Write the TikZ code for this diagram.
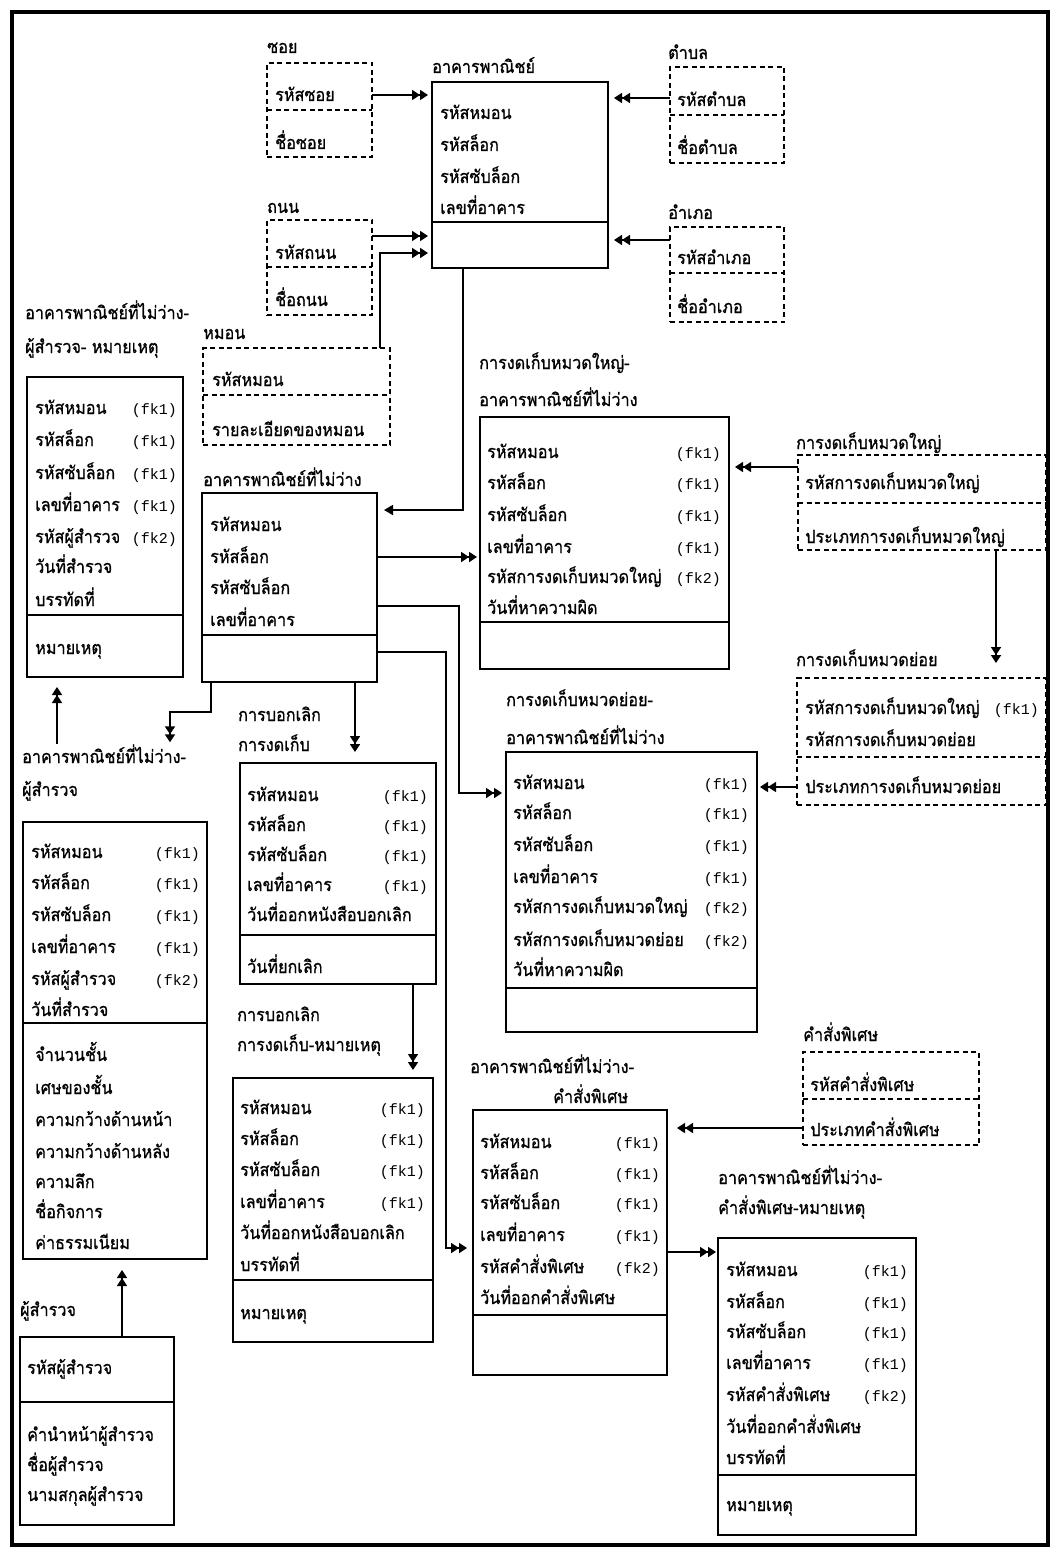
\documentclass[tikz,border=0pt]{standalone}
\usepackage{fontspec}
\setmainfont[Script=Thai,FakeStretch=0.9,FakeBold=0.8]{Loma}
\newfontfamily\fkfont{Liberation Mono}
\usetikzlibrary{arrows.meta}
\tikzset{
  x=1pt,y=-1pt,
  ent/.style={draw, line width=1.8pt, inner sep=0, outer sep=0, anchor=north west},
  dent/.style={ent, dash pattern=on 5pt off 3.5pt, line width=1.5pt},
  div/.style={line width=1.8pt},
  ddiv/.style={line width=1.5pt, dash pattern=on 5pt off 3.5pt},
  txt/.style={anchor=base west, inner sep=0, font=\fontsize{18}{20}\selectfont},
  fk/.style={anchor=base east, inner sep=0, font=\fkfont\fontsize{15}{18}\selectfont},
  conn/.style={line width=1.7pt},
  dbl/.style={conn, -{Triangle[length=8pt,width=10pt]Triangle[length=8pt,width=10pt]}},
  sgl/.style={conn, -{Triangle[length=9pt,width=10pt]}},
}
\newcommand\Ebox[6]{\node[#2, minimum width={(#5)-(#3)}, minimum height={(#6)-(#4)}] (#1) at (#3,#4) {};}
\newcommand\Div[3]{\draw[#2] (#1.west |- 0,#3) -- (#1.east |- 0,#3);}
\newcommand\R[4]{\node[txt] (#1) at (#2,#3+6) {#4};}
\newcommand\F[4]{\node[fk] (#1) at (#2,#3+6) {#4};}
\begin{document}
\begin{tikzpicture}
\fill[white] (0,0) rectangle (1059,1554);
\useasboundingbox (0,0) rectangle (1059,1554);
\draw[line width=4pt] (12,12) rectangle (1048,1545);

% soi
\node[txt] (soiL) at (267,47+6) {ซอย};
\Ebox{soi}{dent}{267}{63}{372}{157}
\Div{soi}{ddiv}{110}
\R{soi1}{275}{95}{รหัสซอย}
\R{soi2}{275}{143}{ชื่อซอย}

% main
\node[txt] (mainL) at (432,67+6) {อาคารพาณิชย์};
\Ebox{main}{ent}{432}{82}{608}{268}
\Div{main}{div}{222}
\R{main1}{440}{113}{รหัสหมอน}
\R{main2}{440}{145}{รหัสล็อก}
\R{main3}{440}{177}{รหัสซับล็อก}
\R{main4}{440}{208}{เลขที่อาคาร}

% tambon
\node[txt] (tamL) at (668,53+6) {ตำบล};
\Ebox{tam}{dent}{670}{67}{784}{163}
\Div{tam}{ddiv}{115}
\R{tam1}{677}{100}{รหัสตำบล}
\R{tam2}{677}{148}{ชื่อตำบล}

% amphoe
\node[txt] (ampL) at (668,213+6) {อำเภอ};
\Ebox{amp}{dent}{670}{227}{784}{322}
\Div{amp}{ddiv}{273}
\R{amp1}{677}{258}{รหัสอำเภอ}
\R{amp2}{677}{307}{ชื่ออำเภอ}

% thanon
\node[txt] (thaL) at (267,207+6) {ถนน};
\Ebox{tha}{dent}{267}{220}{372}{315}
\Div{tha}{ddiv}{267}
\R{tha1}{275}{253}{รหัสถนน}
\R{tha2}{275}{300}{ชื่อถนน}

% mon
\node[txt] (monL) at (203,333+6) {หมอน};
\Ebox{mon}{dent}{203}{348}{390}{445}
\Div{mon}{ddiv}{395}
\R{mon1}{212}{380}{รหัสหมอน}
\R{mon2}{212}{430}{รายละเอียดของหมอน}

% b7
\node[txt] (b7L1) at (25,313+6) {อาคารพาณิชย์ที่ไม่ว่าง-};
\node[txt] (b7L2) at (25,347+6) {ผู้สำรวจ- หมายเหตุ};
\Ebox{b7}{ent}{27}{377}{183}{677}
\Div{b7}{div}{615}
\R{b7r1}{35}{408}{รหัสหมอน}
\R{b7r2}{35}{440}{รหัสล็อก}
\R{b7r3}{35}{473}{รหัสซับล็อก}
\R{b7r4}{35}{505}{เลขที่อาคาร}
\R{b7r5}{35}{537}{รหัสผู้สำรวจ}
\R{b7r6}{35}{567}{วันที่สำรวจ}
\R{b7r7}{35}{600}{บรรทัดที่}
\R{b7r8}{35}{648}{หมายเหตุ}
\F{b7f1}{177}{408}{(fk1)}
\F{b7f2}{177}{440}{(fk1)}
\F{b7f3}{177}{473}{(fk1)}
\F{b7f4}{177}{505}{(fk1)}
\F{b7f5}{177}{537}{(fk2)}

% b8
\node[txt] (b8L) at (203,480+6) {อาคารพาณิชย์ที่ไม่ว่าง};
\Ebox{b8}{ent}{202}{493}{377}{682}
\Div{b8}{div}{635}
\R{b8r1}{210}{525}{รหัสหมอน}
\R{b8r2}{210}{557}{รหัสล็อก}
\R{b8r3}{210}{588}{รหัสซับล็อก}
\R{b8r4}{210}{620}{เลขที่อาคาร}

% b9
\node[txt] (b9L1) at (479,363+6) {การงดเก็บหมวดใหญ่-};
\node[txt] (b9L2) at (479,400+6) {อาคารพาณิชย์ที่ไม่ว่าง};
\Ebox{b9}{ent}{480}{417}{729}{669}
\Div{b9}{div}{622}
\R{b9r1}{487}{452}{รหัสหมอน}
\R{b9r2}{487}{483}{รหัสล็อก}
\R{b9r3}{487}{515}{รหัสซับล็อก}
\R{b9r4}{487}{547}{เลขที่อาคาร}
\R{b9r5}{487}{577}{รหัสการงดเก็บหมวดใหญ่}
\R{b9r6}{487}{608}{วันที่หาความผิด}
\F{b9f1}{721}{452}{(fk1)}
\F{b9f2}{721}{483}{(fk1)}
\F{b9f3}{721}{515}{(fk1)}
\F{b9f4}{721}{547}{(fk1)}
\F{b9f5}{721}{577}{(fk2)}

% b10
\node[txt] (b10L) at (796,443+6) {การงดเก็บหมวดใหญ่};
\Ebox{b10}{dent}{798}{455}{1046}{550}
\Div{b10}{ddiv}{503}
\R{b10r1}{805}{483}{รหัสการงดเก็บหมวดใหญ่}
\R{b10r2}{805}{537}{ประเภทการงดเก็บหมวดใหญ่}

% b11
\node[txt] (b11L) at (796,660+6) {การงดเก็บหมวดย่อย};
\Ebox{b11}{dent}{797}{678}{1046}{805}
\Div{b11}{ddiv}{757}
\R{b11r1}{805}{708}{รหัสการงดเก็บหมวดใหญ่}
\F{b11f1}{1039}{708}{(fk1)}
\R{b11r2}{805}{740}{รหัสการงดเก็บหมวดย่อย}
\R{b11r3}{805}{787}{ประเภทการงดเก็บหมวดย่อย}

% b12
\node[txt] (b12L1) at (506,700+6) {การงดเก็บหมวดย่อย-};
\node[txt] (b12L2) at (506,738+6) {อาคารพาณิชย์ที่ไม่ว่าง};
\Ebox{b12}{ent}{506}{752}{757}{1032}
\Div{b12}{div}{988}
\R{b12r1}{513}{783}{รหัสหมอน}
\R{b12r2}{513}{813}{รหัสล็อก}
\R{b12r3}{513}{845}{รหัสซับล็อก}
\R{b12r4}{513}{877}{เลขที่อาคาร}
\R{b12r5}{513}{907}{รหัสการงดเก็บหมวดใหญ่}
\R{b12r6}{513}{940}{รหัสการงดเก็บหมวดย่อย}
\R{b12r7}{513}{970}{วันที่หาความผิด}
\F{b12f1}{749}{783}{(fk1)}
\F{b12f2}{749}{813}{(fk1)}
\F{b12f3}{749}{845}{(fk1)}
\F{b12f4}{749}{877}{(fk1)}
\F{b12f5}{749}{907}{(fk2)}
\F{b12f6}{749}{940}{(fk2)}

% b13
\node[txt] (b13L1) at (238,715+6) {การบอกเลิก};
\node[txt] (b13L2) at (238,745+6) {การงดเก็บ};
\Ebox{b13}{ent}{240}{763}{436}{984}
\Div{b13}{div}{935}
\R{b13r1}{247}{795}{รหัสหมอน}
\R{b13r2}{247}{825}{รหัสล็อก}
\R{b13r3}{247}{855}{รหัสซับล็อก}
\R{b13r4}{247}{885}{เลขที่อาคาร}
\R{b13r5}{247}{915}{วันที่ออกหนังสือบอกเลิก}
\R{b13r6}{247}{967}{วันที่ยกเลิก}
\F{b13f1}{428}{795}{(fk1)}
\F{b13f2}{428}{825}{(fk1)}
\F{b13f3}{428}{855}{(fk1)}
\F{b13f4}{428}{885}{(fk1)}

% b14
\node[txt] (b14L1) at (22,757+6) {อาคารพาณิชย์ที่ไม่ว่าง-};
\node[txt] (b14L2) at (22,790+6) {ผู้สำรวจ};
\Ebox{b14}{ent}{23}{822}{207}{1259}
\Div{b14}{div}{1023}
\R{b14r1}{31}{852}{รหัสหมอน}
\R{b14r2}{31}{883}{รหัสล็อก}
\R{b14r3}{31}{915}{รหัสซับล็อก}
\R{b14r4}{31}{947}{เลขที่อาคาร}
\R{b14r5}{31}{979}{รหัสผู้สำรวจ}
\R{b14r6}{31}{1010}{วันที่สำรวจ}
\F{b14f1}{200}{852}{(fk1)}
\F{b14f2}{200}{883}{(fk1)}
\F{b14f3}{200}{915}{(fk1)}
\F{b14f4}{200}{947}{(fk1)}
\F{b14f5}{200}{979}{(fk2)}
\R{b14r7}{35}{1055}{จำนวนชั้น}
\R{b14r8}{35}{1088}{เศษของชั้น}
\R{b14r9}{35}{1120}{ความกว้างด้านหน้า}
\R{b14r10}{35}{1152}{ความกว้างด้านหลัง}
\R{b14r11}{35}{1182}{ความลึก}
\R{b14r12}{35}{1212}{ชื่อกิจการ}
\R{b14r13}{35}{1243}{ค่าธรรมเนียม}

% b15
\node[txt] (b15L) at (20,1310+6) {ผู้สำรวจ};
\Ebox{b15}{ent}{20}{1337}{174}{1525}
\Div{b15}{div}{1402}
\R{b15r1}{27}{1368}{รหัสผู้สำรวจ}
\R{b15r2}{27}{1435}{คำนำหน้าผู้สำรวจ}
\R{b15r3}{27}{1465}{ชื่อผู้สำรวจ}
\R{b15r4}{27}{1495}{นามสกุลผู้สำรวจ}

% b16
\node[txt] (b16L1) at (237,1015+6) {การบอกเลิก};
\node[txt] (b16L2) at (237,1045+6) {การงดเก็บ-หมายเหตุ};
\Ebox{b16}{ent}{233}{1078}{433}{1342}
\Div{b16}{div}{1280}
\R{b16r1}{240}{1108}{รหัสหมอน}
\R{b16r2}{240}{1139}{รหัสล็อก}
\R{b16r3}{240}{1170}{รหัสซับล็อก}
\R{b16r4}{240}{1202}{เลขที่อาคาร}
\R{b16r5}{240}{1233}{วันที่ออกหนังสือบอกเลิก}
\R{b16r6}{240}{1265}{บรรทัดที่}
\R{b16r7}{240}{1313}{หมายเหตุ}
\F{b16f1}{425}{1108}{(fk1)}
\F{b16f2}{425}{1139}{(fk1)}
\F{b16f3}{425}{1170}{(fk1)}
\F{b16f4}{425}{1202}{(fk1)}

% b17
\node[txt] (b17L1) at (470,1067+6) {อาคารพาณิชย์ที่ไม่ว่าง-};
\node[txt] (b17L2) at (553,1097+6) {คำสั่งพิเศษ};
\Ebox{b17}{ent}{473}{1110}{667}{1375}
\Div{b17}{div}{1315}
\R{b17r1}{480}{1142}{รหัสหมอน}
\R{b17r2}{480}{1173}{รหัสล็อก}
\R{b17r3}{480}{1203}{รหัสซับล็อก}
\R{b17r4}{480}{1235}{เลขที่อาคาร}
\R{b17r5}{480}{1267}{รหัสคำสั่งพิเศษ}
\R{b17r6}{480}{1298}{วันที่ออกคำสั่งพิเศษ}
\F{b17f1}{660}{1142}{(fk1)}
\F{b17f2}{660}{1173}{(fk1)}
\F{b17f3}{660}{1203}{(fk1)}
\F{b17f4}{660}{1235}{(fk1)}
\F{b17f5}{660}{1267}{(fk2)}

% b18
\node[txt] (b18L1) at (718,1178+6) {อาคารพาณิชย์ที่ไม่ว่าง-};
\node[txt] (b18L2) at (718,1208+6) {คำสั่งพิเศษ-หมายเหตุ};
\Ebox{b18}{ent}{718}{1238}{916}{1535}
\Div{b18}{div}{1475}
\R{b18r1}{726}{1270}{รหัสหมอน}
\R{b18r2}{726}{1302}{รหัสล็อก}
\R{b18r3}{726}{1332}{รหัสซับล็อก}
\R{b18r4}{726}{1363}{เลขที่อาคาร}
\R{b18r5}{726}{1395}{รหัสคำสั่งพิเศษ}
\R{b18r6}{726}{1427}{วันที่ออกคำสั่งพิเศษ}
\R{b18r7}{726}{1458}{บรรทัดที่}
\R{b18r8}{726}{1505}{หมายเหตุ}
\F{b18f1}{908}{1270}{(fk1)}
\F{b18f2}{908}{1302}{(fk1)}
\F{b18f3}{908}{1332}{(fk1)}
\F{b18f4}{908}{1363}{(fk1)}
\F{b18f5}{908}{1395}{(fk2)}

% b19
\node[txt] (b19L) at (803,1035+6) {คำสั่งพิเศษ};
\Ebox{b19}{dent}{803}{1052}{979}{1145}
\Div{b19}{ddiv}{1099}
\R{b19r1}{810}{1085}{รหัสคำสั่งพิเศษ}
\R{b19r2}{810}{1130}{ประเภทคำสั่งพิเศษ}

% connectors
\draw[dbl,shorten >=4pt] (soi.east |- 0,95) -- (main.west |- 0,95);
\draw[dbl,shorten >=4pt] (tha.east |- 0,236) -- (main.west |- 0,236);
\draw[dbl,shorten >=4pt] (mon.north -| 380,0) |- (main.west |- 0,253);
\draw[dbl,shorten >=6pt] (tam.west |- 0,98) -- (main.east |- 0,98);
\draw[dbl,shorten >=6pt] (amp.west |- 0,240) -- (main.east |- 0,240);
\draw[sgl,shorten >=7pt] (main.south -| 463,0) |- (b8.east |- 0,510);
\draw[dbl,shorten >=3pt] (b8.east |- 0,557) -- (b9.west |- 0,557);
\draw[dbl,shorten >=4pt] (b8.east |- 0,606) -| (459,700) |- (b12.west |- 0,793);
\draw[dbl,shorten >=6pt] (b8.east |- 0,652) -| (446,900) |- (b17.west |- 0,1248);
\draw[dbl,shorten >=6pt] (b10.west |- 0,467) -- (b9.east |- 0,467);
\draw[dbl,shorten >=15pt] (b10.south -| 996,0) -- (b11.north -| 996,0);
\draw[dbl,shorten >=3pt] (b11.west |- 0,787) -- (b12.east |- 0,787);
\draw[dbl,shorten >=11pt] (b8.south -| 355,0) -- (b13.north -| 355,0);
\draw[dbl,shorten >=2pt] (b8.south -| 211,0) |- (170,712) -- (b14L1.north -| 170,0);
\draw[dbl,shorten >=10pt] (b14L1.north -| 57,0) -- (b7.south -| 57,0);
\draw[dbl,shorten >=11pt] (b15.north -| 122,0) -- (b14.south -| 122,0);
\draw[dbl,shorten >=8pt] (b13.south -| 413,0) -- (b16.north -| 413,0);
\draw[dbl,shorten >=2pt] (b17.east |- 0,1252) -- (b18.west |- 0,1252);
\draw[dbl,shorten >=10pt] (b19.west |- 0,1128) -- (b17.east |- 0,1128);
\end{tikzpicture}
\end{document}
